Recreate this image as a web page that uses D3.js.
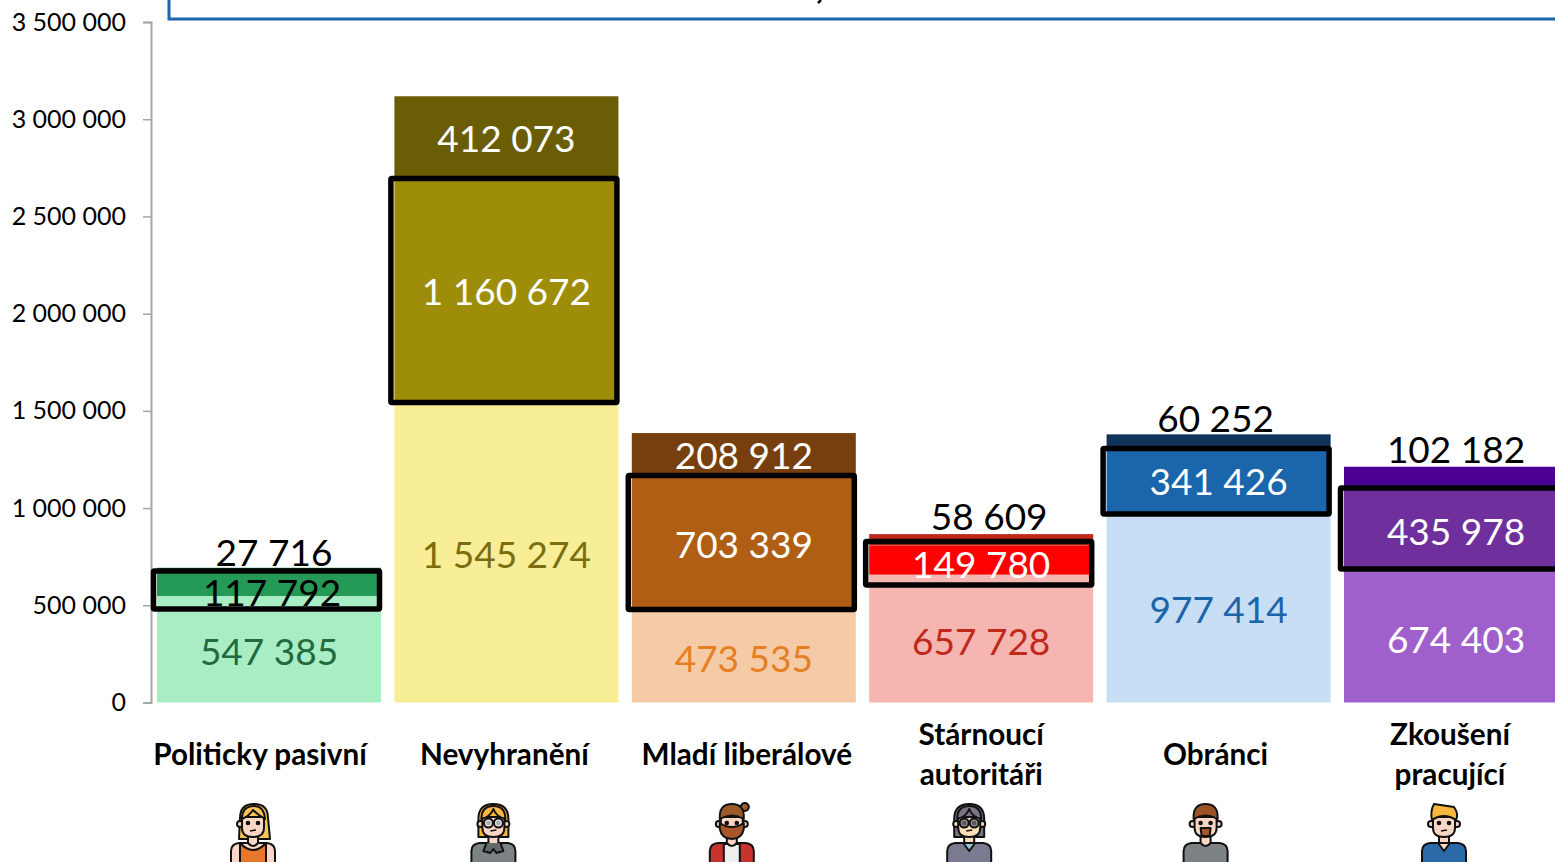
<!DOCTYPE html>
<html>
<head>
  <meta charset="utf-8">
  <title>Segmenty</title>
  <script src="https://d3js.org/d3.v7.min.js"></script>
  <style>
    html, body { margin: 0; background: #fff; overflow: hidden; }
    svg { display: block; }
    text { font-family: Lato, "Open Sans", sans-serif; }
  </style>
</head>
<body>
  <svg id="chart" width="1555" height="862"></svg>
  <script>
    var categories = ["Politicky pasivní", "Nevyhranění", "Mladí liberálové", "Stárnoucí autoritáři", "Obránci", "Zkoušení pracující"];
    var lowValues = [547385, 1545274, 473535, 657728, 977414, 674403];
    var midValues = [117792, 1160672, 703339, 149780, 341426, 435978];
    var topValues = [27716, 412073, 208912, 58609, 60252, 102182];
    // black frames in axis units
    var frameLow = [481000, 1543000, 478000, 604000, 970000, 687000];
    var frameHigh = [676000, 2695000, 1168000, 828000, 1307000, 1103000];
    var yTicks = [0, 500000, 1000000, 1500000, 2000000, 2500000, 3000000, 3500000];

    // styles, per column
    var lowColors = ["#a9edc4", "#f8ee98", "#f5cba7", "#f5b5b1", "#c7def5", "#a060cc"];
    var midColors = ["#259a57", "#9e8d08", "#af5e14", "#ff0000", "#1b65ab", "#6f2f9d"];
    var topColors = ["#1e7b45", "#6a5d05", "#783f0e", "#c0281c", "#10335a", "#4b0091"];
    var lowText = ["#1e6b40", "#7a6e0f", "#e67e22", "#c0281c", "#1b65ab", "#ffffff"];
    var midText = ["#000000", "#ffffff", "#ffffff", "#ffffff", "#ffffff", "#ffffff"];
    var topText = ["#000000", "#ffffff", "#ffffff", "#000000", "#000000", "#000000"];
    var catNudge = [-9, -2, 3, 0, -3, -6];
    var iconNudge = [-16, -13, -12, -12, -13, -12];

    var svg = d3.select("#chart");
    var x = d3.scaleBand().domain(categories).range([150.3, 1574.7]).paddingInner(0.0564).paddingOuter(0.0282);
    var y = d3.scaleLinear().domain([0, 3500000]).range([702.5, 22]);

    var fmt = function(v) {
      return String(v).replace(/\B(?=(\d{3})+(?!\d))/g, " ");
    };

    // y-axis
    var axis = svg.append("g")
      .attr("transform", "translate(151,0)")
      .call(d3.axisLeft(y).tickValues(yTicks).tickSize(8).tickPadding(17).tickFormat(fmt));
    axis.select(".domain").attr("stroke", "#a6a6a6").attr("stroke-width", 2);
    axis.selectAll(".tick line").attr("stroke", "#a6a6a6").attr("stroke-width", 1.5);
    axis.selectAll(".tick").filter(function(d) { return d === 0; }).select("line").remove();
    axis.selectAll(".tick text")
      .attr("font-size", 25).attr("fill", "#000").attr("dy", "0.32em").style("font-family", "Lato");

    // box at the top, mostly cut off by the crop
    svg.append("rect").attr("x", 169).attr("y", -40).attr("width", 1500).attr("height", 59)
      .attr("fill", "none").attr("stroke", "#1b65ab").attr("stroke-width", 3);
    // tail of the box's cut-off text
    svg.append("path").attr("d", "M821,0 L818,3").attr("stroke", "#000").attr("stroke-width", 2.5);

    // the stacks
    categories.forEach(function(c, i) {
      var layers = [
        {v0: 0, v1: lowValues[i], fill: lowColors[i]},
        {v0: lowValues[i], v1: lowValues[i] + midValues[i], fill: midColors[i]},
        {v0: lowValues[i] + midValues[i], v1: lowValues[i] + midValues[i] + topValues[i], fill: topColors[i]}
      ];
      svg.selectAll(null).data(layers).enter().append("rect")
        .attr("x", x(c))
        .attr("width", x.bandwidth())
        .attr("y", function(d) { return y(d.v1); })
        .attr("height", function(d) { return y(d.v0) - y(d.v1); })
        .attr("fill", function(d) { return d.fill; });
    });

    // frames
    svg.selectAll(".frame").data(categories).enter().append("rect")
      .attr("class", "frame")
      .attr("x", function(d) { return x(d) - 3.5; })
      .attr("width", x.bandwidth() + 2)
      .attr("y", function(d, i) { return y(frameHigh[i]); })
      .attr("height", function(d, i) { return y(frameLow[i]) - y(frameHigh[i]); })
      .attr("fill", "none").attr("stroke", "#000").attr("stroke-width", 5.5).attr("rx", 1);

    // value labels
    var labels = [];
    categories.forEach(function(c, i) {
      var cx = x(c) + x.bandwidth() / 2;
      var l = lowValues[i], m = midValues[i], t = topValues[i];
      labels.push({v: l, x: cx, y: y(l / 2) + 3, fill: lowText[i]});
      labels.push({v: m, x: cx, y: y(l + m / 2) + 3, fill: midText[i]});
      // thin top segments get the label above the bar
      var outside = y(l + m) - y(l + m + t) < 30;
      labels.push({v: t, x: cx, y: outside ? y(l + m + t) - 17 : y(l + m + t / 2) + 3, fill: topText[i]});
    });
    // hand nudges for the labels the original moved
    labels[1].x += 3; labels[1].y += 5; labels[2].x += 5; labels[2].y += 2;
    labels[10].y += 2; labels[11].x += 8; labels[14].x -= 3; labels[14].y += 2;

    svg.selectAll(".val").data(labels).enter().append("text")
      .attr("class", "val")
      .attr("x", function(d) { return d.x; })
      .attr("y", function(d) { return d.y; })
      .attr("dy", "0.35em")
      .attr("text-anchor", "middle")
      .attr("font-size", 37)
      .attr("fill", function(d) { return d.fill; })
      .text(function(d) { return fmt(d.v); });

    // category labels
    categories.forEach(function(c, i) {
      var cx = x(c) + x.bandwidth() / 2 + catNudge[i];
      var words = (c === "Stárnoucí autoritáři" || c === "Zkoušení pracující") ? c.split(" ") : [c];
      words.forEach(function(w, k) {
        svg.append("text")
          .attr("x", cx)
          .attr("y", 755 + (k - (words.length - 1) / 2) * 40)
          .attr("dy", "0.35em")
          .attr("text-anchor", "middle")
          .attr("font-size", 29.7).attr("font-weight", 700).attr("fill", "#000")
          .text(w);
      });
    });

    // little people under the categories
    var people = [
      {hair: "#f6c659", long: true, skin: "#fad7c4", shirt: "#e8772e", tank: true},
      {hair: "#f6b73c", bob: true, glasses: "#dfe3e6", skin: "#fad7c4", shirt: "#7d8285", lapels: true},
      {hair: "#9a5a2a", bun: true, beard: "#a8562a", skin: "#fad7c4", shirt: "#c8332e", open: "#eeeeee"},
      {hair: "#7c7480", bob: true, glasses: "#6d6f78", skin: "#fbe0b8", shirt: "#7a7a90", collar: "#8fc7d0"},
      {hair: "#9a5226", goatee: "#a8562a", skin: "#fad7c4", shirt: "#7d8285"},
      {hair: "#f6b73c", quiff: true, skin: "#fad7c4", shirt: "#2a6aa6", collar: "#fad7c4"}
    ];
    var ink = "#111";
    categories.forEach(function(c, i) {
      var p = people[i];
      var g = svg.append("g")
        .attr("transform", "translate(" + (x(c) + x.bandwidth() / 2 + iconNudge[i]) + ",823)")
        .attr("stroke", ink).attr("stroke-width", 2).attr("stroke-linejoin", "round");
      // back hair
      if (p.long) g.append("path").attr("d", "M-13,-5 Q-13,-19 1,-19 Q15,-19 15,-5 L17,16 L-14,16 Z").attr("fill", p.hair);
      if (p.bob) g.append("path").attr("d", "M-15,-4 Q-15,-19 0,-19 Q15,-19 15,-4 L15,14 L-15,14 Z").attr("fill", p.hair);
      if (p.bun) g.append("circle").attr("cx", 13).attr("cy", -16).attr("r", 4).attr("fill", p.hair);
      // body
      g.append("path")
        .attr("d", "M-22,42 L-22,28 Q-22,21 -14,20 L14,20 Q22,21 22,28 L22,42 Z")
        .attr("fill", p.tank ? p.skin : p.shirt);
      if (p.tank) g.append("path").attr("d", "M-13,42 L-13,20 Q0,34 13,20 L13,42 Z").attr("fill", p.shirt);
      if (p.open) g.append("path").attr("d", "M-8,42 L-8,21 L8,21 L8,42 Z").attr("fill", p.open);
      g.append("path").attr("d", "M-5,10 L-5,20 Q0,26 5,20 L5,10 Z").attr("fill", p.skin);
      if (p.lapels) g.append("path").attr("d", "M-7,20 L-10,28 L-3,30 L0,26 L3,30 L10,28 L7,20").attr("fill", "#63686b");
      if (p.collar) g.append("path").attr("d", "M-6,20 L0,28 L6,20 Z").attr("fill", p.collar);
      // ears and face
      g.append("circle").attr("cx", -13).attr("cy", 1).attr("r", 3).attr("fill", p.skin);
      if (!p.long) g.append("circle").attr("cx", 13).attr("cy", 1).attr("r", 3).attr("fill", p.skin);
      g.append("path").attr("d", "M-11,-6 L11,-6 L11,5 Q11,14 0,14 Q-11,14 -11,5 Z").attr("fill", p.skin);
      if (p.beard) g.append("path").attr("d", "M-12,0 Q-6,4 0,4 Q6,4 12,0 L12,6 Q10,16 0,16 Q-10,16 -12,6 Z").attr("fill", p.beard);
      if (p.goatee) g.append("path").attr("d", "M-5,5 L5,5 L4,13 L-4,13 Z").attr("fill", p.goatee);
      // front hair
      if (p.quiff) {
        g.append("path").attr("d", "M-10,-19 L10,-16 Q15,-9 12,-3 Q0,-11 -12,-3 Q-14,-12 -10,-19 Z").attr("fill", p.hair);
      } else if (p.long) {
        g.append("path").attr("d", "M-11,-4 Q-11,-17 1,-17 Q11,-17 12,-4 Q5,-8 0,-13 Q-4,-7 -11,-4 Z").attr("fill", p.hair);
      } else if (p.bob) {
        g.append("path").attr("d", "M-12,-4 Q-12,-17 0,-17 Q12,-17 12,-4 Q3,-6 0,-14 Q-3,-6 -12,-4 Z").attr("fill", p.hair);
      } else {
        g.append("path").attr("d", "M-12,-4 Q-13,-19 0,-19 Q13,-19 12,-4 Q0,-11 -12,-4 Z").attr("fill", p.hair);
      }
      // eyes, mouth, glasses
      g.append("circle").attr("cx", -5).attr("cy", 0).attr("r", 1.3).attr("fill", ink);
      g.append("circle").attr("cx", 5).attr("cy", 0).attr("r", 1.3).attr("fill", ink);
      if (!p.beard && !p.goatee) g.append("path").attr("d", "M-3,8 L3,7").attr("fill", "none").attr("stroke-width", 1.5);
      if (p.glasses) {
        g.append("circle").attr("cx", -5).attr("cy", 0).attr("r", 4.5).attr("fill", p.glasses).attr("fill-opacity", 0.75);
        g.append("circle").attr("cx", 5).attr("cy", 0).attr("r", 4.5).attr("fill", p.glasses).attr("fill-opacity", 0.75);
      }
    });
  </script>
</body>
</html>
